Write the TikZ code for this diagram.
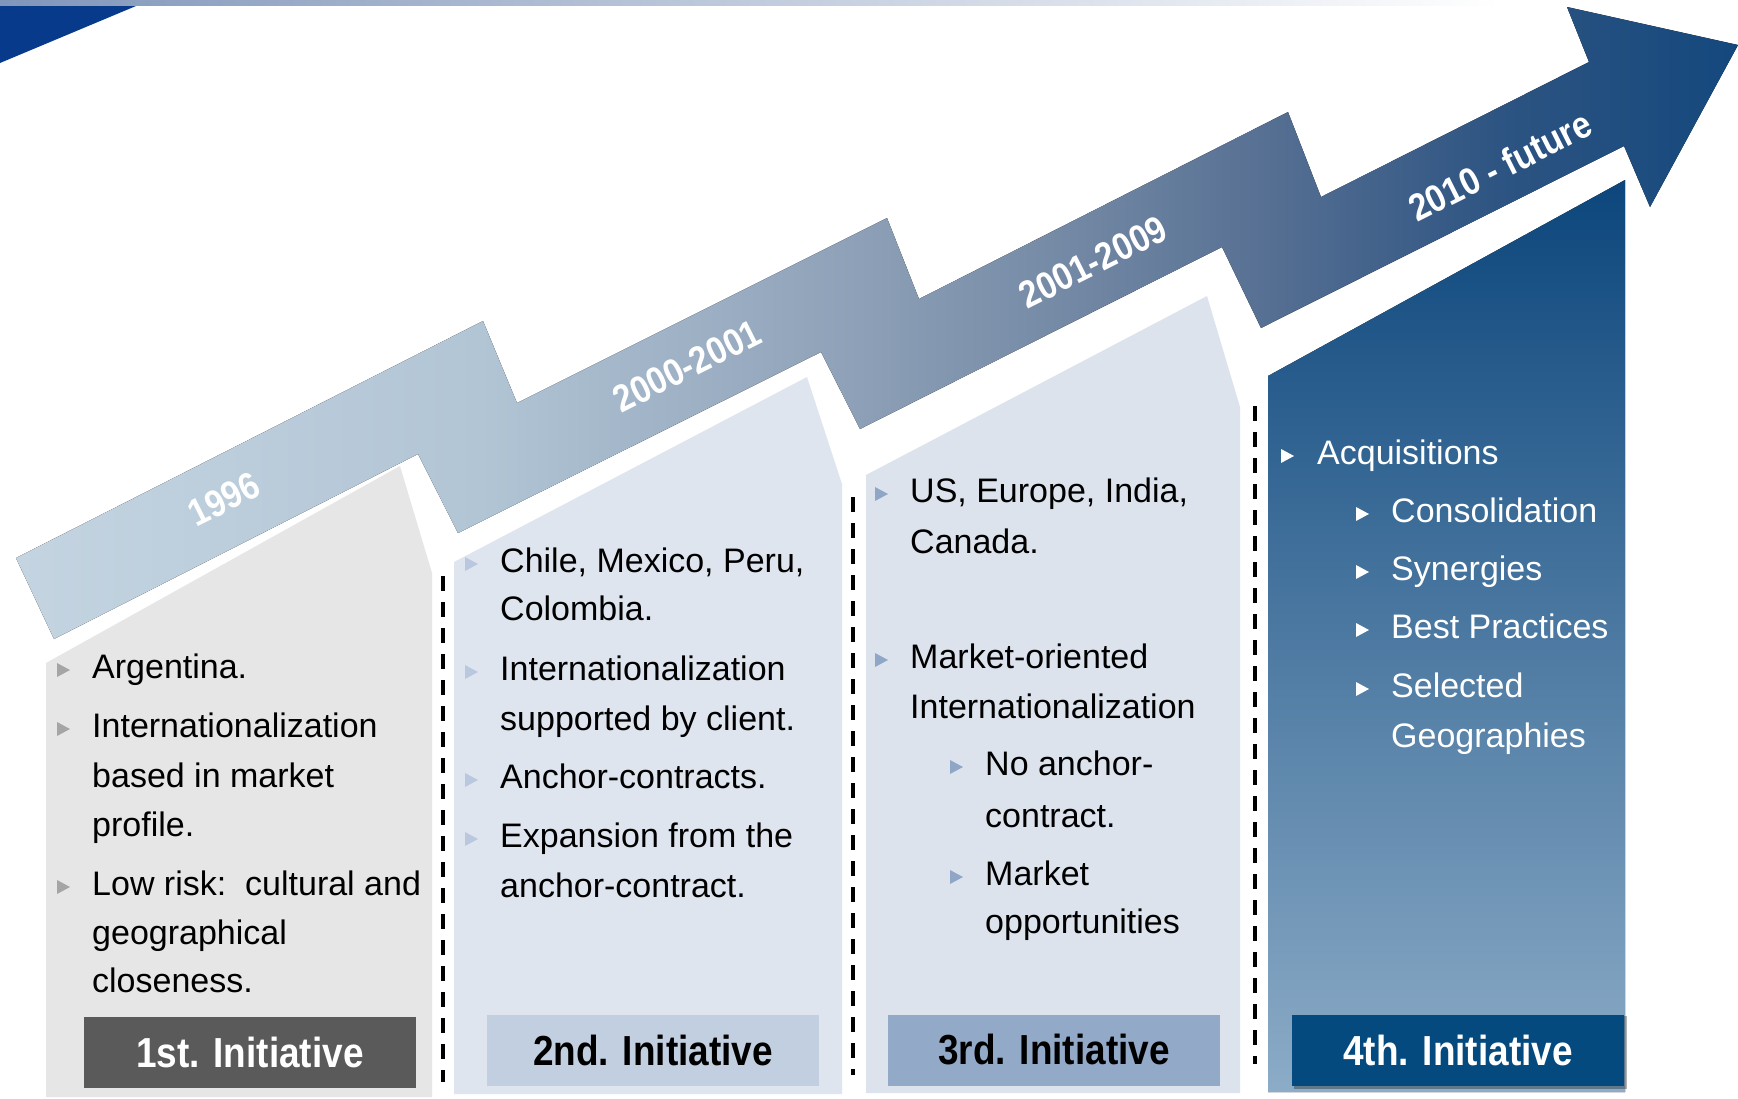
\documentclass[tikz,border=0pt]{standalone}
\usepackage{fontspec}
\setmainfont{Liberation Sans}
\newfontfamily\headfont[FakeStretch=0.88]{Liberation Sans}
\definecolor{bc0}{RGB}{196,212,225}
\definecolor{bc1}{RGB}{178,197,213}
\definecolor{bc2}{RGB}{142,161,184}
\definecolor{bc3}{RGB}{118,139,166}
\definecolor{bc4}{RGB}{84,110,146}
\definecolor{bc5}{RGB}{45,84,130}
\definecolor{bc6}{RGB}{20,72,125}
\definecolor{stripc}{RGB}{128,150,186}
\definecolor{tric}{RGB}{8,58,140}
\definecolor{colA}{RGB}{230,230,230}
\definecolor{colB}{RGB}{223,229,238}
\definecolor{colC}{RGB}{220,227,237}
\definecolor{colDtop}{RGB}{12,70,124}
\definecolor{colDbot}{RGB}{140,172,199}
\definecolor{boxA}{RGB}{90,90,90}
\definecolor{boxB}{RGB}{194,207,224}
\definecolor{boxC}{RGB}{147,169,200}
\definecolor{boxD}{RGB}{4,74,127}
\definecolor{bulA}{RGB}{165,165,165}
\definecolor{bulB}{RGB}{185,200,222}
\definecolor{bulC}{RGB}{143,166,199}
\pgfdeclarehorizontalshading{bandshade}{100bp}{color(0bp)=(bc0); color(25bp)=(bc0); color(38.5bp)=(bc1); color(49.2bp)=(bc2); color(55bp)=(bc3); color(61.7bp)=(bc4); color(68.1bp)=(bc5); color(75bp)=(bc6); color(100bp)=(bc6)}
\newcommand\tri[3]{\fill[#3] (#1,#2-1) -- (#1,#2-15) -- (#1+13,#2-8) -- cycle;}
\begin{document}
\begin{tikzpicture}[x=1pt,y=-1pt,
  txt/.style={anchor=base west, inner sep=0pt, font=\fontsize{34}{40}\selectfont, text=black},
  wtxt/.style={txt, text=white},
  ibox/.style={minimum width=332pt, minimum height=71pt, inner sep=0pt, font=\headfont\bfseries\fontsize{42}{42}\selectfont},
  yearlbl/.style={rotate=26.7, text=white, inner sep=0pt, font=\headfont\bfseries\fontsize{38}{38}\selectfont},
  sepline/.style={line width=4pt, dash pattern=on 15pt off 11pt, black}]
\useasboundingbox (0,0) rectangle (1738,1098);
\fill[white] (0,0) rectangle (1738,1098);
% top strip and corner triangle
\fill[left color=stripc, right color=white] (0,0) rectangle (1500,5);
\fill[tric] (0,6) -- (136,6) -- (0,63) -- cycle;
% staircase arrow
\fill[shading=bandshade] (16,558) -- (483,321) -- (517,403) -- (887,218) -- (919,299) -- (1288,112) -- (1321,197) -- (1589,62) -- (1567,7) -- (1738,45) -- (1650,207) -- (1624,146) -- (1261,328) -- (1222,247) -- (860,429) -- (821,352) -- (458,533) -- (418,454) -- (54,639) -- cycle;
% columns
\fill[colA] (46,663) -- (400,466) -- (432,573) -- (432,1097) -- (46,1097) -- cycle;
\fill[colB] (454,562) -- (807,377) -- (842,484) -- (842,1094) -- (454,1094) -- cycle;
\fill[colC] (866,475) -- (1207,296) -- (1240,407) -- (1240,1093) -- (866,1093) -- cycle;
\fill[top color=colDtop, bottom color=colDbot] (1268,376) -- (1625,180) -- (1625,1092) -- (1268,1092) -- cycle;
% separators
\coordinate (s1t) at (443,576); \coordinate (s1b) at (443,1082);
\coordinate (s2t) at (853,497); \coordinate (s2b) at (853,1075);
\coordinate (s3t) at (1255,406); \coordinate (s3b) at (1255,1064);
\draw[sepline] (s1t) -- (s1b);
\draw[sepline] (s2t) -- (s2b);
\draw[sepline] (s3t) -- (s3b);
% year labels
\node[yearlbl] (y1) at (224,499) {1996};
\node[yearlbl] (y2) at (687,366) {2000-2001};
\node[yearlbl] (y3) at (1093,262) {2001-2009};
\node[yearlbl] (y4) at (1500,166) {2010 - future};
% initiative boxes
\fill[black, opacity=0.3] (1294,1016) rectangle (1627,1089);
\node[ibox, fill=boxA, text=white] (i1) at (250,1052.5) {1st. Initiative};
\node[ibox, fill=boxB, text=black] (i2) at (653,1050) {2nd. Initiative};
\node[ibox, fill=boxC, text=black] (i3) at (1054,1050) {3rd. Initiative};
\node[ibox, fill=boxD, text=white] (i4) at (1458,1050) {4th. Initiative};
% column 1 text
\tri{57}{678}{bulA} \tri{57}{737}{bulA} \tri{57}{895}{bulA}
\node[txt] (a1) at (92,678) {Argentina.};
\node[txt] (a2) at (92,737) {Internationalization};
\node[txt] (a3) at (92,787) {based in market};
\node[txt] (a4) at (92,836) {profile.};
\node[txt] (a5) at (92,895) {Low risk:\ \ cultural and};
\node[txt] (a6) at (92,944) {geographical};
\node[txt] (a7) at (92,992) {closeness.};
% column 2 text
\tri{465}{572}{bulB} \tri{465}{680}{bulB} \tri{465}{788}{bulB} \tri{465}{847}{bulB}
\node[txt] (b1) at (500,572) {Chile, Mexico, Peru,};
\node[txt] (b2) at (500,620) {Colombia.};
\node[txt] (b3) at (500,680) {Internationalization};
\node[txt] (b4) at (500,730) {supported by client.};
\node[txt] (b5) at (500,788) {Anchor-contracts.};
\node[txt] (b6) at (500,847) {Expansion from the};
\node[txt] (b7) at (500,897) {anchor-contract.};
% column 3 text
\tri{875}{502}{bulC} \tri{875}{668}{bulC} \tri{950}{775}{bulC} \tri{950}{885}{bulC}
\node[txt] (c1) at (910,502) {US, Europe, India,};
\node[txt] (c2) at (910,553) {Canada.};
\node[txt] (c3) at (910,668) {Market-oriented};
\node[txt] (c4) at (910,718) {Internationalization};
\node[txt] (c5) at (985,775) {No anchor-};
\node[txt] (c6) at (985,827) {contract.};
\node[txt] (c7) at (985,885) {Market};
\node[txt] (c8) at (985,933) {opportunities};
% column 4 text
\tri{1281}{464}{white} \tri{1356}{522}{white} \tri{1356}{580}{white} \tri{1356}{638}{white} \tri{1356}{697}{white}
\node[wtxt] (d1) at (1317,464) {Acquisitions};
\node[wtxt] (d2) at (1391,522) {Consolidation};
\node[wtxt] (d3) at (1391,580) {Synergies};
\node[wtxt] (d4) at (1391,638) {Best Practices};
\node[wtxt] (d5) at (1391,697) {Selected};
\node[wtxt] (d6) at (1391,747) {Geographies};
\end{tikzpicture}
\end{document}
